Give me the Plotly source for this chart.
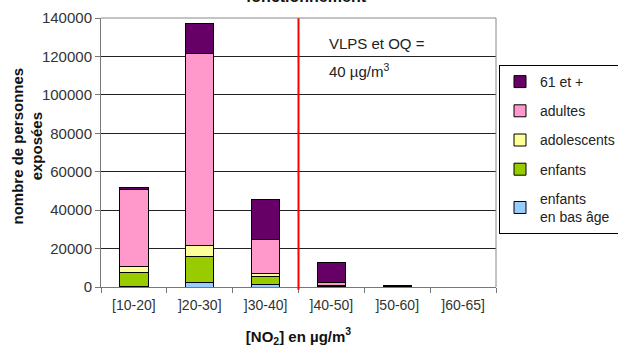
import plotly.graph_objects as go

categories = ["[10-20]", "]20-30]", "]30-40]", "]40-50]", "]50-60]", "]60-65]"]
series_names = ["enfants<br>en bas âge", "enfants", "adolescents", "adultes", "61 et +"]
enfants_bas_age = [400, 2400, 1400, 200, 0, 0]
enfants = [7200, 13300, 4300, 400, 50, 0]
adolescents = [3300, 5900, 1100, 200, 0, 0]
adultes = [39800, 100100, 18100, 1800, 100, 0]
seniors = [1200, 15500, 20900, 9900, 450, 0]
colors = ["#99CCFF", "#99CC00", "#FFFF99", "#FF99CC", "#660066"]
y_ticks = [0, 20000, 40000, 60000, 80000, 100000, 120000, 140000]

values = [enfants_bas_age, enfants, adolescents, adultes, seniors]

fig = go.Figure()
n = len(series_names)
for i, (name, vals, col) in enumerate(zip(series_names, values, colors)):
    fig.add_trace(go.Bar(
        x=categories, y=vals, name=name, legendgroup=f"g{i}",
        legendrank=n - i,
        marker=dict(color=col, line=dict(color="black", width=1)),
    ))

font = "Liberation Sans, Arial, sans-serif"
fig.update_layout(
    width=618, height=352,
    margin=dict(l=101, r=122, t=18, b=65, autoexpand=False),
    barmode="stack", bargap=0.57,
    plot_bgcolor="white", paper_bgcolor="white",
    font=dict(family=font, size=14, color="#222"),
    showlegend=True,
    legend=dict(
        xref="container", yref="container",
        x=499 / 618, y=1 - 65 / 352, xanchor="left", yanchor="top",
        traceorder="grouped", tracegroupgap=8,
        bordercolor="black", borderwidth=1, bgcolor="white",
        font=dict(family=font, size=14, color="#222"),
        itemwidth=30,
    ),
    xaxis=dict(
        type="category", tickson="boundaries", ticks="outside", ticklen=5,
        tickcolor="#777", showline=True, linecolor="#777", linewidth=1,
        mirror=False, showgrid=False, tickfont=dict(size=14, color="#333"),
        ticklabelstandoff=5,
        title=dict(text="<b>[NO<sub>2</sub>] en µg/m<sup>3</sup></b>",
                   font=dict(size=15, color="#111"), standoff=19),
    ),
    yaxis=dict(
        range=[0, 140000], tickvals=y_ticks, ticks="outside", ticklen=5,
        tickcolor="#777", showline=True, linecolor="#777", linewidth=1,
        showgrid=True, gridcolor="#222", gridwidth=1, zeroline=False,
        tickfont=dict(size=15, color="#333"), tickformat="d",
    ),
    shapes=[
        dict(type="line", xref="x", yref="paper", x0=2.5, x1=2.5, y0=-0.01, y1=1,
             line=dict(color="red", width=2)),
        dict(type="line", xref="paper", yref="paper", x0=1, x1=1, y0=0, y1=1,
             line=dict(color="#888", width=1)),
        dict(type="line", xref="paper", yref="paper", x0=0, x1=1, y0=1, y1=1,
             line=dict(color="#888", width=1)),
    ],
    annotations=[
        dict(text="VLPS et OQ =", xref="paper", yref="paper", x=0.572, y=0.905,
             xanchor="left", yanchor="middle", showarrow=False,
             font=dict(size=15, color="#222")),
        dict(text="40 µg/m<sup>3</sup>", xref="paper", yref="paper", x=0.572, y=0.805,
             xanchor="left", yanchor="middle", showarrow=False,
             font=dict(size=15, color="#222")),
        dict(text="<b>nombre de personnes<br>exposées</b>", xref="paper", yref="paper",
             x=0, y=0.5, xshift=-74, yshift=6, xanchor="center", yanchor="middle",
             textangle=-90, showarrow=False, font=dict(size=15, color="#111")),
        dict(text="<b>fonctionnement</b>", xref="paper", yref="paper",
             x=0.52, y=1, yshift=11, xanchor="center", yanchor="bottom",
             showarrow=False, font=dict(size=16, color="#111")),
    ],
)

fig.write_html("out.html")
